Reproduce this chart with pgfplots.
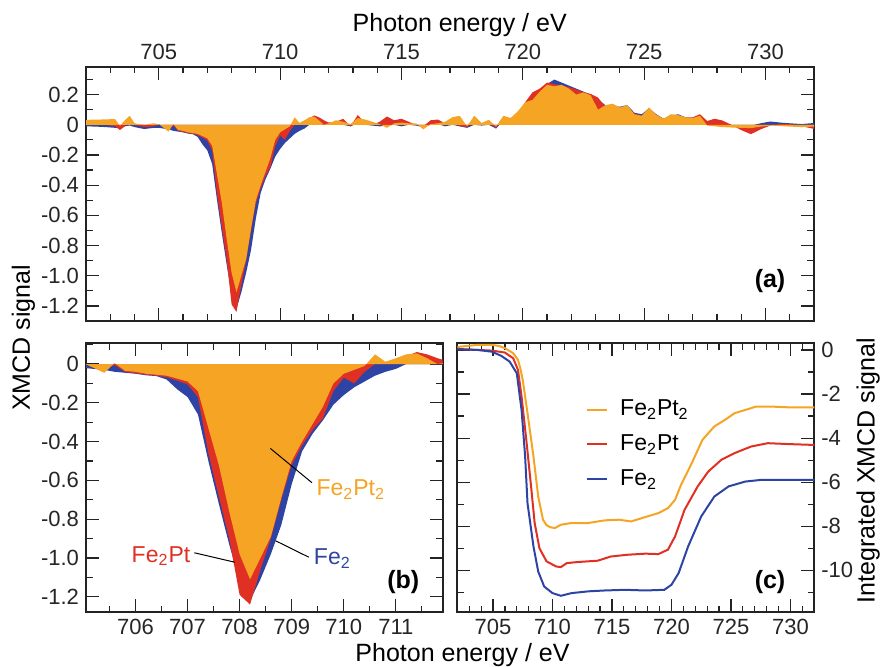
\documentclass[border=0pt]{standalone}
\usepackage{fontspec}
\setmainfont{Liberation Sans}
\usepackage{pgfplots}
\pgfplotsset{compat=1.18}
\usepackage{pgfplotstable}

\definecolor{cO}{RGB}{245,164,35}
\definecolor{cR}{RGB}{224,48,36}
\definecolor{cB}{RGB}{46,68,164}
\definecolor{frm}{RGB}{35,35,35}

\pgfplotstableread{
E B R O
702.0 -0.010 0.000 0.033
702.4 -0.012 0.005 0.034
702.8 -0.015 0.000 0.036
703.2 -0.020 -0.010 0.038
703.4 -0.022 -0.035 -0.007
703.6 -0.010 -0.010 0.030
703.8 -0.005 0.050 0.060
704.0 -0.015 0.000 0.010
704.4 -0.028 -0.015 0.000
704.8 -0.020 -0.010 0.010
705.0 -0.020 0.005 0.005
705.2 -0.025 -0.015 -0.020
705.4 -0.030 -0.025 -0.045
705.6 -0.040 -0.005 0.005
705.8 -0.045 -0.040 -0.035
706.0 -0.050 -0.048 -0.040
706.2 -0.058 -0.055 -0.050
706.4 -0.062 -0.060 -0.055
706.6 -0.080 -0.068 -0.060
706.8 -0.130 -0.085 -0.075
707.0 -0.170 -0.105 -0.090
707.2 -0.260 -0.170 -0.140
707.4 -0.500 -0.460 -0.330
707.6 -0.720 -0.680 -0.520
707.8 -0.930 -0.900 -0.760
708.0 -1.120 -1.190 -0.980
708.2 -1.220 -1.240 -1.110
708.4 -1.110 -1.060 -1.000
708.6 -0.980 -0.900 -0.890
708.8 -0.830 -0.700 -0.690
709.0 -0.620 -0.520 -0.500
709.2 -0.450 -0.420 -0.400
709.4 -0.360 -0.340 -0.310
709.6 -0.290 -0.280 -0.220
709.8 -0.210 -0.140 -0.100
710.0 -0.160 -0.070 -0.050
710.2 -0.120 -0.100 -0.030
710.4 -0.090 -0.040 -0.010
710.6 -0.060 0.000 0.050
710.8 -0.040 0.010 0.012
711.0 -0.025 0.020 0.030
711.2 0.000 0.040 0.050
711.4 0.020 0.062 0.055
711.6 0.030 0.050 0.030
711.8 0.020 0.030 0.000
712.0 0.010 0.015 0.010
712.3 0.005 0.020 0.030
712.6 0.000 0.040 0.020
712.9 -0.010 -0.010 0.005
713.2 0.010 0.065 0.045
713.5 0.000 0.010 0.035
713.8 -0.005 0.000 0.020
714.1 -0.010 0.020 0.005
714.4 -0.005 0.055 -0.020
714.7 0.000 0.030 0.010
715.0 -0.010 0.040 0.015
715.3 0.000 0.020 0.010
715.6 -0.005 0.000 0.010
715.9 -0.015 -0.010 -0.030
716.2 0.000 0.030 0.005
716.5 0.005 0.035 0.010
716.8 -0.010 0.010 0.020
717.1 0.000 0.040 0.050
717.4 -0.010 -0.010 0.060
717.7 -0.020 -0.015 -0.010
718.0 0.000 0.020 0.060
718.3 -0.005 0.005 0.012
718.6 0.000 0.010 0.033
718.9 -0.025 -0.020 -0.012
719.2 0.030 0.050 0.060
719.5 0.040 0.040 0.045
719.8 0.070 0.070 0.090
720.1 0.150 0.150 0.150
720.4 0.180 0.215 0.165
720.7 0.230 0.240 0.220
721.0 0.270 0.280 0.265
721.3 0.300 0.270 0.255
721.6 0.280 0.260 0.265
721.9 0.260 0.250 0.240
722.2 0.240 0.235 0.200
722.5 0.220 0.215 0.215
722.8 0.200 0.205 0.195
723.1 0.170 0.180 0.100
723.4 0.130 0.120 0.130
723.7 0.120 0.110 0.140
724.0 0.120 0.110 0.115
724.3 0.130 0.120 0.130
724.6 0.080 0.075 0.070
724.9 0.070 0.060 0.060
725.2 0.110 0.100 0.115
725.5 0.070 0.065 0.066
725.8 0.040 0.040 0.040
726.1 0.060 0.050 0.070
726.4 0.070 0.060 0.065
726.7 0.050 0.050 0.050
727.0 0.040 0.050 0.045
727.3 0.020 0.070 0.060
727.6 0.000 0.025 -0.005
727.9 -0.005 0.040 -0.010
728.2 -0.010 0.030 -0.015
728.6 -0.010 0.000 -0.018
729.0 -0.010 -0.035 -0.020
729.4 -0.005 -0.062 -0.022
729.8 0.010 -0.030 -0.012
730.2 0.022 -0.005 -0.005
730.6 0.015 0.005 -0.008
731.0 0.010 0.005 -0.012
731.5 0.005 -0.010 -0.015
732.0 0.012 -0.027 -0.012
}\xmcd

\pgfplotstableread{
E V
701.8 0.12
702.5 0.16
703.7 0.23
704.9 0.23
705.5 0.18
706.0 0.08
706.7 -0.15
707.1 -0.45
707.3 -0.85
707.5 -1.36
707.9 -2.87
708.4 -4.83
708.8 -6.65
709.2 -7.70
709.5 -7.95
709.8 -8.04
710.2 -8.08
710.7 -7.93
711.6 -7.85
713.0 -7.85
714.4 -7.73
715.6 -7.70
716.6 -7.78
717.8 -7.58
718.9 -7.40
719.7 -7.18
720.3 -6.80
720.8 -6.12
721.7 -5.14
722.6 -4.08
723.6 -3.47
724.5 -3.17
725.3 -2.87
726.4 -2.69
727.1 -2.57
728.4 -2.57
730.1 -2.61
732.0 -2.61
}\intO

\pgfplotstableread{
E V
701.8 0.05
703.7 0.00
704.9 -0.03
706.0 -0.12
706.7 -0.38
707.1 -0.91
707.4 -2.11
707.8 -4.08
708.2 -6.19
708.5 -7.85
708.9 -8.99
709.5 -9.59
710.3 -9.82
710.7 -9.85
711.2 -9.67
712.1 -9.62
713.8 -9.56
714.9 -9.37
716.3 -9.29
717.8 -9.24
718.9 -9.26
719.7 -9.06
720.3 -8.46
721.1 -7.25
722.2 -6.19
723.1 -5.51
724.2 -4.98
725.3 -4.68
726.7 -4.38
728.1 -4.23
729.8 -4.27
732.0 -4.31
}\intR

\pgfplotstableread{
E V
701.8 0.03
703.7 0.00
704.9 -0.08
705.7 -0.27
706.4 -0.53
707.0 -1.06
707.4 -2.72
707.7 -4.83
707.9 -6.95
708.4 -8.91
708.8 -10.05
709.3 -10.73
710.0 -11.03
710.7 -11.15
711.6 -11.03
713.0 -10.95
714.4 -10.91
716.1 -10.88
717.8 -10.91
719.4 -10.88
720.0 -10.65
720.6 -10.12
721.4 -8.91
722.5 -7.55
723.6 -6.65
724.8 -6.19
726.2 -5.97
727.6 -5.89
729.8 -5.89
732.0 -5.89
}\intB

\pgfplotsset{
  panel/.style={
    scale only axis,
    anchor=south west,
    axis line style={line width=0.9pt, frm},
    every tick/.style={frm, line width=0.6pt},
    major tick length=6.5pt,
    minor tick length=3.3pt,
    tick align=inside,
    tick label style={font=\fontsize{11}{13}\selectfont, text=black!85},
    /pgf/number format/assume math mode=true,
    /pgf/number format/1000 sep={},
  },
}

\begin{document}
\begin{tikzpicture}
\useasboundingbox (0,0) rectangle (440pt,333pt);

% ---------- (a) ----------
\begin{axis}[panel,
  at={(43pt,172.5pt)}, width=364pt, height=127.15pt,
  xmin=702, xmax=732, ymin=-1.3, ymax=0.385,
  xtick={705,710,715,720,725,730},
  minor xtick={702,703,...,732},
  xticklabel pos=upper,
  ytick={-1.2,-1.0,-0.8,-0.6,-0.4,-0.2,0,0.2},
  yticklabels={-1.2,-1.0,-0.8,-0.6,-0.4,-0.2,0,0.2},
  minor ytick={-1.3,-1.1,-0.9,-0.7,-0.5,-0.3,-0.1,0.1,0.3},
]
\addplot[fill=cB, draw=none] table[x=E,y=B] {\xmcd} \closedcycle;
\addplot[fill=cR, draw=none] table[x=E,y=R] {\xmcd} \closedcycle;
\addplot[fill=cO, draw=none] table[x=E,y=O] {\xmcd} \closedcycle;
\node[font=\bfseries\fontsize{12.5}{14}\selectfont] at (rel axis cs:0.9396,0.157) {(a)};
\end{axis}

% ---------- (b) ----------
\begin{axis}[panel,
  at={(43pt,26.85pt)}, width=178.35pt, height=134.5pt,
  xmin=705.05, xmax=711.9, ymin=-1.28, ymax=0.107,
  xtick={706,707,708,709,710,711},
  minor xtick={705.5,706.5,707.5,708.5,709.5,710.5,711.5},
  ytick={-1.2,-1.0,-0.8,-0.6,-0.4,-0.2,0},
  yticklabels={-1.2,-1.0,-0.8,-0.6,-0.4,-0.2,0},
  minor ytick={-1.3,-1.1,-0.9,-0.7,-0.5,-0.3,-0.1,0.1},
]
\addplot[fill=cB, draw=none] table[x=E,y=B] {\xmcd} \closedcycle;
\addplot[fill=cR, draw=none] table[x=E,y=R] {\xmcd} \closedcycle;
\addplot[fill=cO, draw=none] table[x=E,y=O] {\xmcd} \closedcycle;
\draw[black, line width=0.5pt] (axis cs:708.59,-0.435) -- (axis cs:709.39,-0.612);
\draw[black, line width=0.5pt] (axis cs:708.69,-0.911) -- (axis cs:709.33,-0.996);
\draw[black, line width=0.5pt] (axis cs:707.13,-0.973) -- (axis cs:707.91,-1.022);
\node[anchor=base west, inner sep=0pt, text=cO, font=\fontsize{11.5}{13}\selectfont] at (axis cs:709.47,-0.679) {Fe\textsubscript{2}Pt\textsubscript{2}};
\node[anchor=base west, inner sep=0pt, text=cB, font=\fontsize{11.5}{13}\selectfont] at (axis cs:709.42,-1.036) {Fe\textsubscript{2}};
\node[anchor=base west, inner sep=0pt, text=cR, font=\fontsize{11.5}{13}\selectfont] at (axis cs:705.92,-1.022) {Fe\textsubscript{2}Pt};
\node[font=\bfseries\fontsize{12.5}{14}\selectfont] at (rel axis cs:0.8895,0.114) {(b)};
\end{axis}

% ---------- (c) ----------
\begin{axis}[panel,
  at={(228.65pt,26.85pt)}, width=178.5pt, height=134.5pt,
  xmin=702, xmax=732, ymin=-11.9, ymax=0.3,
  xtick={705,710,715,720,725,730},
  minor xtick={702,703,...,732},
  ytick={-10,-8,-6,-4,-2,0},
  yticklabels={-10,-8,-6,-4,-2,0},
  minor ytick={-11,-9,-7,-5,-3,-1},
  yticklabel pos=right,
  legend style={at={(rel axis cs:0.36,0.805)}, anchor=north west, draw=none, fill=none,
    font=\fontsize{11.5}{13}\selectfont, row sep=4pt, inner sep=0pt,
    cells={anchor=west},
    /tikz/every odd column/.append style={column sep=4pt}},
  legend image code/.code={\draw[#1, line width=1pt] (0pt,0pt) -- (10pt,0pt);},
]
\addplot[cO, line width=1pt] table[x=E,y=V] {\intO};
\addlegendentry{Fe\textsubscript{2}Pt\textsubscript{2}}
\addplot[cR, line width=1pt] table[x=E,y=V] {\intR};
\addlegendentry{Fe\textsubscript{2}Pt}
\addplot[cB, line width=1pt] table[x=E,y=V] {\intB};
\addlegendentry{Fe\textsubscript{2}}
\node[font=\bfseries\fontsize{12.5}{14}\selectfont] at (rel axis cs:0.876,0.114) {(c)};
\end{axis}

% ---------- axis titles ----------
\node[anchor=base, font=\fontsize{12.5}{15}\selectfont] at (229.85pt,317.15pt) {Photon energy / eV};
\node[anchor=base, font=\fontsize{12.5}{15}\selectfont] at (231.25pt,2.5pt) {Photon energy / eV};
\node[anchor=base, rotate=90, font=\fontsize{12.5}{15}\selectfont] at (15pt,164pt) {XMCD signal};
\node[anchor=base, rotate=90, font=\fontsize{12.5}{15}\selectfont] at (437.3pt,97.65pt) {Integrated XMCD signal};
\end{tikzpicture}
\end{document}
